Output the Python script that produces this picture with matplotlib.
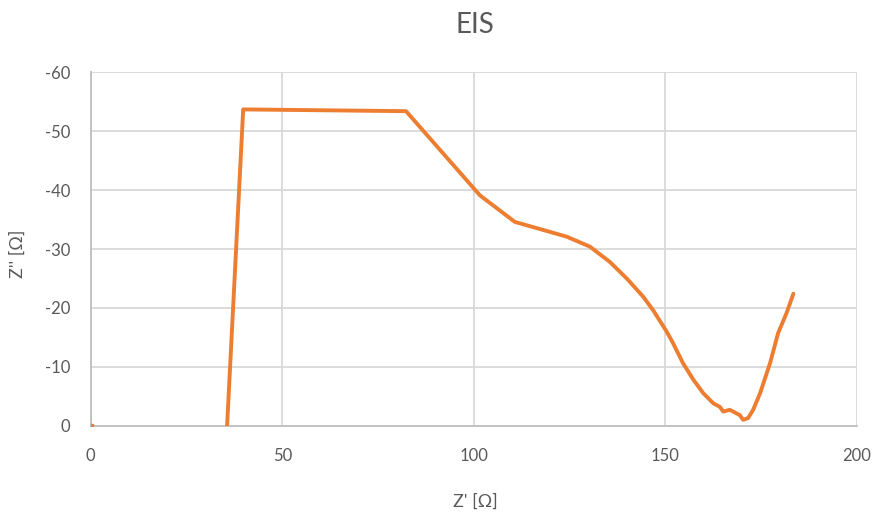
import matplotlib
matplotlib.use("Agg")
import matplotlib.pyplot as plt
import numpy as np

plt.rcParams['font.family'] = ['Lato', 'DejaVu Sans']
plt.rcParams['axes.unicode_minus'] = False

# Nyquist data: real part Z' and imaginary part Z'' (ohm)
z_real = [0, np.nan, 35.6, 39.8, 82.3, 101.6, 110.7, 124.2, 130.3, 135.5, 139.9,
          144.2, 146.8, 150.3, 152.0, 154.6, 157.3, 159.9, 162.5, 164.2, 165.1,
          166.8, 169.4, 170.3, 171.6, 172.9, 174.7, 177.3, 179.4, 181.6, 183.4]
z_imag = [0, np.nan, 0, -53.7, -53.4, -39.1, -34.6, -32.1, -30.4, -27.8, -25.0,
          -21.9, -19.6, -16.0, -14.0, -10.6, -7.8, -5.5, -3.8, -3.2, -2.4,
          -2.7, -1.8, -1.0, -1.3, -2.7, -5.5, -10.6, -15.7, -19.1, -22.4]

x_ticks = [0, 50, 100, 150, 200]
y_ticks = [0, -10, -20, -30, -40, -50, -60]

title = "EIS"
x_label = "Z' [Ω]"
y_label = "Z'' [Ω]"

line_color = "#ED7D31"
text_color = "#595959"
grid_color = "#D9D9D9"

W, H = 877, 513
fig = plt.figure(figsize=(W / 100, H / 100), dpi=100)
ax = fig.add_axes([90.7 / W, 1 - 425.7 / H, (857 - 90.7) / W, (425.7 - 72.3) / H])

ax.plot(z_real, z_imag, color=line_color, linewidth=2.8, solid_joinstyle='round',
        solid_capstyle='round', zorder=3)
# isolated first point at the origin
ax.plot([z_real[0]], [z_imag[0]], 's', color=line_color, markersize=2.4, zorder=3)

ax.set_xlim(0, 200)
ax.set_ylim(0, -60)
ax.set_xticks(x_ticks)
ax.set_yticks(y_ticks)
ax.set_xticklabels([str(v) for v in x_ticks])
ax.set_yticklabels([str(v) for v in y_ticks])

ax.grid(True, color=grid_color, linewidth=1.3)
ax.set_axisbelow(True)
for side in ['top', 'right']:
    ax.spines[side].set_visible(False)
for side in ['left', 'bottom']:
    ax.spines[side].set_color("#BFBFBF")
    ax.spines[side].set_linewidth(1.3)

ax.tick_params(axis='both', length=0, labelsize=12, labelcolor=text_color)
ax.tick_params(axis='x', pad=16)
ax.tick_params(axis='y', pad=14.5)

fig.text(475 / W, 1 - 33.3 / H, title, fontsize=20, color=text_color,
         ha='center', va='baseline')
fig.text(475.5 / W, 1 - 507 / H, x_label, fontsize=13, color=text_color,
         ha='center', va='baseline')
fig.text(18 / W, 1 - 254 / H, y_label, fontsize=13, color=text_color,
         ha='center', va='center', rotation=90)

fig.savefig("out.png", dpi=100, facecolor="white")
